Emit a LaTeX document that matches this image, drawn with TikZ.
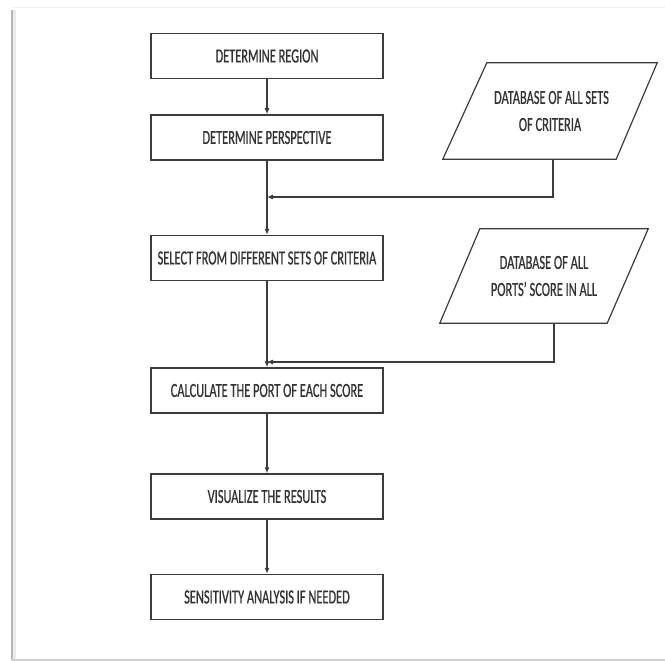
\documentclass[tikz,border=0pt]{standalone}
\usepackage{fontspec}
\newfontfamily\cf[FakeStretch=0.62,FakeBold=0.7]{Carlito}
\usetikzlibrary{arrows.meta}
\definecolor{ln}{HTML}{3C3C3C}
\definecolor{tx}{HTML}{333333}
\begin{document}
\begin{tikzpicture}[x=1pt,y=-1pt,
  procbox/.style={draw=ln, line width=1.5pt, minimum width=232pt, minimum height=45pt, inner sep=0pt, font=\cf\fontsize{20}{24}\selectfont, text=tx},
  datab/.style={align=center, font=\cf\fontsize{20}{27}\selectfont, text=tx, inner sep=0pt},
  para/.style={draw=ln, line width=1.2pt, line join=miter},
  flow/.style={draw=ln, line width=1.1pt, -{Latex[length=6pt,width=5pt]}}]
\useasboundingbox (0,0) rectangle (665,661);
\fill[white] (0,0) rectangle (665,661);
% page frame
\draw[line width=1pt, color=black!6] (12,8) -- (665,8);
\draw[line width=3pt, color=black!8] (14,10) -- (14,660);
\draw[line width=1.5pt, color=black!28] (12,10) -- (12,660);
\draw[line width=1.5pt, color=black!18] (12,660) -- (665,660);
% process boxes
\node[procbox] (b1) at (267,56) {DETERMINE REGION};
\node[procbox] (b2) at (267,137.5) {DETERMINE PERSPECTIVE};
\node[procbox] (b3) at (267,258) {SELECT FROM DIFFERENT SETS OF CRITERIA};
\node[procbox] (b4) at (267,390.5) {CALCULATE THE PORT OF EACH SCORE};
\node[procbox] (b5) at (267,496.5) {VISUALIZE THE RESULTS};
\node[procbox] (b6) at (267,597) {SENSITIVITY ANALYSIS IF NEEDED};
% data (parallelograms)
\node[datab, minimum width=214pt, minimum height=96pt] (d1) at (550,111) {\hspace*{3pt}DATABASE OF ALL SETS\\OF CRITERIA};
\draw[para] (d1.south west) -- ([xshift=-41pt]d1.south east) -- (d1.north east) -- ([xshift=44pt]d1.north west) -- cycle;
\node[datab, minimum width=208pt, minimum height=94pt] (d2) at (544,276) {DATABASE OF ALL\\PORTS’ SCORE IN ALL};
\draw[para] (d2.south west) -- ([xshift=-41pt]d2.south east) -- (d2.north east) -- ([xshift=40pt]d2.north west) -- cycle;
% connectors
\coordinate (j1) at (267,197);
\coordinate (j2) at (267,362);
\draw[flow] (b1) -- (b2);
\draw[flow] (b2) -- (b3);
\draw[flow] (b3) -- (b4);
\draw[flow] (b4) -- (b5);
\draw[flow] (b5) -- (b6);
\draw[flow] ([xshift=3pt]d1.south) |- (j1);
\draw[flow] ([xshift=10pt]d2.south) |- (j2);
\end{tikzpicture}
\end{document}
